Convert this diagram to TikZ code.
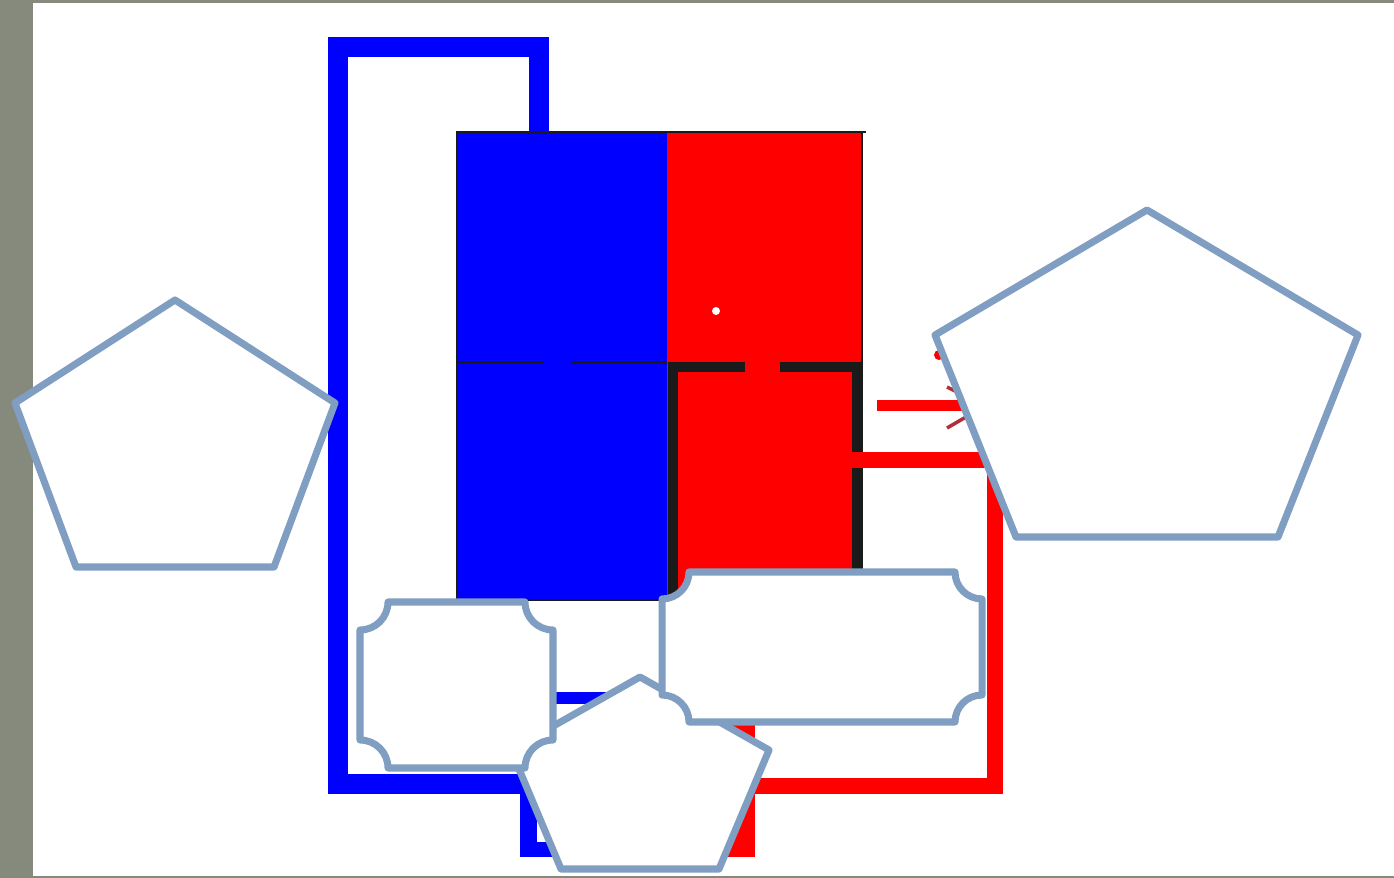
\documentclass[tikz,border=0pt]{standalone}
\usepackage{tikz}
\usetikzlibrary{positioning}
\definecolor{slateBg}{HTML}{868A7D}
\definecolor{coldSide}{HTML}{0000FF}
\definecolor{hotSide}{HTML}{FF0000}
\definecolor{hotDark}{HTML}{B0303A}
\definecolor{wallDark}{HTML}{1A1A1A}
\definecolor{calloutEdge}{HTML}{7F9EC2}

\begin{document}
\begin{tikzpicture}[x=0.1mm,y=-0.1mm,
    callout/.style={draw=calloutEdge,line width=2pt,fill=white,line join=round},
    coldpipe/.style={draw=coldSide,line width=5.7pt},
    hotpipe/.style={draw=hotSide,line width=4.3pt}]
        \useasboundingbox (0,0) rectangle (1394,878);
        \fill[slateBg] (0,0) rectangle (1394,878);
        \fill[white] (33,3) rectangle (1394,876);
        % tank
        \fill[coldSide] (457,132) rectangle (667,600);
        \fill[hotSide] (667,132) rectangle (862,600);
        \draw[wallDark,line width=0.6pt] (457,600) -- (457,132) -- (866,132);
        \draw[wallDark,line width=0.6pt] (862,132) -- (862,600);
        \draw[wallDark,line width=0.6pt] (457,600) -- (667,600);
        \draw[wallDark,line width=0.6pt] (457,362) -- (543,362);
        \draw[wallDark,line width=0.6pt] (572,362) -- (667,362);
        \draw[wallDark,line width=2.8pt] (745,367) -- (673,367) -- (673,600);
        \draw[wallDark,line width=2.8pt] (780,367) -- (857,367) -- (857,600);
        \fill[white] (716,311) circle (4);
        \coordinate (coldPort) at (539,132);
        \coordinate (hotPort) at (845,460);
        % pump box
        \fill[coldSide] (520,692) rectangle (637,857);
        \fill[hotSide] (637,692) rectangle (755,857);
        \fill[white] (537,704) rectangle (732,842);
        \coordinate (pumpCold) at (537,784);
        \coordinate (pumpHot) at (755,786);
        % loops
        \draw[coldpipe] (coldPort) -- (539,47) -- (338,47) -- (338,784) -- (pumpCold);
        \draw[hotpipe] (hotPort) -- (995,460) -- (995,786) -- (pumpHot);
        \draw[hotSide,line width=3.1pt] (877,405.5) -- (975,405.5);
        \draw[hotDark,line width=1pt] (947,387) -- (985,406) -- (947,428);
        \fill[hotSide] (939,355) circle (5);
        % callouts
        \draw[callout] (640,677) -- (769,750) -- (719,869) -- (561,869)
              -- (511,750) -- cycle;
        \draw[callout] (388,602) -- (525,602) .. controls (525,617.5) and (537.5,630) .. (553,630)
              -- (553,740) .. controls (537.5,740) and (525,752.5) .. (525,768)
              -- (388,768) .. controls (388,752.5) and (375.5,740) .. (360,740)
              -- (360,630) .. controls (375.5,630) and (388,617.5) .. (388,602) -- cycle;
        \draw[callout] (689,572) -- (955,572) .. controls (955,586.9) and (967.1,599) .. (982,599)
              -- (982,695) .. controls (967.1,695) and (955,707.1) .. (955,722)
              -- (689,722) .. controls (689,707.1) and (676.9,695) .. (662,695)
              -- (662,599) .. controls (676.9,599) and (689,586.9) .. (689,572) -- cycle;
        \draw[callout] (175,300) -- (335,403) -- (274,567) -- (76,567)
              -- (15,403) -- cycle;
        \draw[callout] (1147,210) -- (1358,335) -- (1278,537) -- (1016,537)
              -- (935,335) -- cycle;
      \end{tikzpicture}
\end{document}
